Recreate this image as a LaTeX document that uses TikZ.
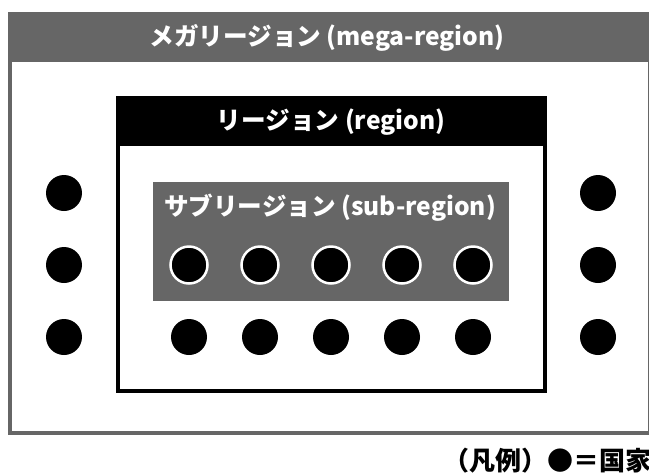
\documentclass[tikz,border=0pt]{standalone}
\usepackage{fontspec}
\setmainfont{Noto Sans CJK JP}
\definecolor{mgray}{RGB}{102,102,102}
\tikzset{
  country/.style={circle, fill=black, minimum size=36pt, inner sep=0pt},
  subcountry/.style={circle, fill=black, draw=white, line width=2.5pt, minimum size=37pt, inner sep=0pt},
  headtext/.style={text=white, font=\fontsize{24.6}{27}\selectfont\bfseries, inner sep=0pt},
}
\begin{document}
\begin{tikzpicture}[x=1pt, y=-1pt]
\useasboundingbox (0,0) rectangle (649,475);
% mega-region
\fill[mgray] (8,12) rectangle (652,62);
\draw[mgray, line width=4pt] (10,14) rectangle (650,433);
\node[headtext] (megat) at (327,38) {メガリージョン (mega-region)};
% region
\fill[black] (116,96) rectangle (547,146);
\draw[black, line width=4pt] (118,98) rectangle (545,390.5);
\node[headtext] (regt) at (331,122) {リージョン (region)};
% sub-region
\fill[mgray] (153,181.5) rectangle (509,301);
\node[headtext] (subt) at (330,208) {サブリージョン (sub-region)};
% countries outside region
\node[country] (l1) at (64,193) {};
\node[country] (l2) at (64,265) {};
\node[country] (l3) at (64,337) {};
\node[country] (r1) at (598,193) {};
\node[country] (r2) at (598,265) {};
\node[country] (r3) at (598,337) {};
% countries in sub-region
\foreach \i/\x in {1/189,2/260,3/331,4/402,5/473}{
  \node[subcountry] (s\i) at (\x,265) {};
  \node[country] (b\i) at (\x,337) {};
}
% legend
\node[anchor=west, inner sep=0pt, font=\fontsize{26}{28}\selectfont\bfseries] (legend) at (443,461) {（凡例）●＝国家};
\end{tikzpicture}
\end{document}
